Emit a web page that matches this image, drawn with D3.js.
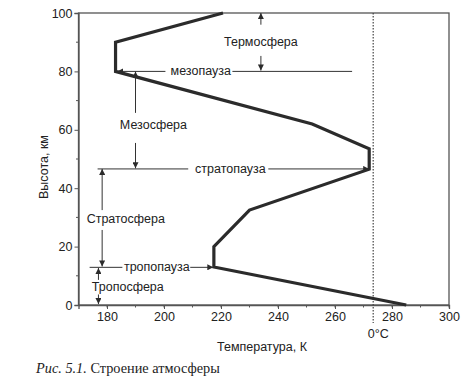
<!DOCTYPE html>
<html><head><meta charset="utf-8">
<script src="https://cdn.jsdelivr.net/npm/d3@7"></script>
<style>
body{margin:0;background:#fff;}
svg text{font-family:"Liberation Sans",Arial,sans-serif;fill:#222;}
</style></head>
<body>
<script>
// ---- data ----
const temperature = [285, 217.5, 217.5, 230, 272, 272, 252, 183, 183, 220.7];
const altitude    = [0, 13, 20, 32.5, 46.5, 53.5, 62, 80, 90, 100];
const xTicks = [180, 200, 220, 240, 260, 280, 300];
const yTicks = [0, 20, 40, 60, 80, 100];
const layerNames = ["Термосфера", "Мезосфера", "Стратосфера", "Тропосфера"];
const pauseNames = ["мезопауза", "стратопауза", "тропопауза"];
const pauseAltitudes = [80, 46.6, 12.9];
const freezingK = 273.4;

const W = 476, H = 380;
const svg = d3.select("body").append("svg").attr("width", W).attr("height", H);
const x = d3.scaleLinear().domain([170, 300]).range([78.5, 449]);
const y = d3.scaleLinear().domain([0, 100]).range([305, 13]);
const ink = "#2b2b2b";

svg.append("defs").append("marker").attr("id","ah")
  .attr("viewBox","0 0 10 10").attr("refX",10).attr("refY",5)
  .attr("markerWidth",7).attr("markerHeight",6).attr("orient","auto-start-reverse")
  .attr("markerUnits","userSpaceOnUse")
  .append("path").attr("d","M0,0L10,5L0,10Z").attr("fill",ink);

// frame
svg.append("rect").attr("x", x(170)).attr("y", y(100))
  .attr("width", x(300)-x(170)).attr("height", y(0)-y(100))
  .attr("fill","none").attr("stroke","#555").attr("stroke-width",1.3);

// axes
const xAxis = d3.axisBottom(x).tickValues(xTicks).tickSize(4).tickPadding(3);
const gx = svg.append("g").attr("transform",`translate(0,${y(0)})`).call(xAxis);
const xMinor = d3.range(180, 301, 10);
svg.append("g").selectAll("line").data(xMinor).join("line")
  .attr("x1",d=>x(d)).attr("x2",d=>x(d)).attr("y1",y(0)).attr("y2",y(0)+2.5)
  .attr("stroke","#555");
const yAxis = d3.axisLeft(y).tickValues(yTicks).tickSize(4).tickPadding(2);
const gy = svg.append("g").attr("transform",`translate(${x(170)},0)`).call(yAxis);
svg.append("g").selectAll("line").data(d3.range(10,100,20)).join("line")
  .attr("x1",x(170)-2.5).attr("x2",x(170)).attr("y1",d=>y(d)).attr("y2",d=>y(d))
  .attr("stroke","#555");
[gx, gy].forEach(g=>{
  g.select(".domain").attr("stroke","#555").attr("stroke-width",1.3);
  g.selectAll(".tick line").attr("stroke","#555");
  g.selectAll(".tick text").attr("font-size",12.5).attr("fill","#222")
   .style("font-family","Liberation Sans, Arial, sans-serif");
});

// 0°C dotted line
svg.append("line").attr("x1",x(freezingK)).attr("x2",x(freezingK))
  .attr("y1",y(100)).attr("y2",y(0)+18)
  .attr("stroke","#444").attr("stroke-width",1.2).attr("stroke-dasharray","1.5,1.5");
svg.append("text").attr("x",x(freezingK)+5).attr("y",338).attr("text-anchor","middle")
  .attr("font-size",12.5).text("0°C");

// axis titles
svg.append("text").attr("x",262).attr("y",351).attr("text-anchor","middle")
  .attr("font-size",12.5).text("Температура, К");
svg.append("text").attr("transform","translate(48,167) rotate(-90)")
  .attr("text-anchor","middle").attr("font-size",12.5).text("Высота, км");

// annotation helper (data units)
function seg(t1,a1,t2,a2,arrowEnd){
  const l = svg.append("line").attr("x1",x(t1)).attr("y1",y(a1)).attr("x2",x(t2)).attr("y2",y(a2))
    .attr("stroke","#333").attr("stroke-width",1);
  if(arrowEnd) l.attr("marker-end","url(#ah)");
  return l;
}
function label(t,a,txt){
  svg.append("text").attr("x",x(t)).attr("y",y(a)).attr("text-anchor","middle")
    .attr("font-size",12.5).text(txt);
}

// mesopause
seg(200.5, pauseAltitudes[0], 183.5, pauseAltitudes[0], true);
label(212.9, pauseAltitudes[0]-1.3, pauseNames[0]);
seg(224, pauseAltitudes[0], 266, pauseAltitudes[0], false);
// stratopause
seg(176.7, pauseAltitudes[1], 208.5, pauseAltitudes[1], false);
label(223.3, pauseAltitudes[1]-1.3, pauseNames[1]);
seg(236.6, pauseAltitudes[1], 272, pauseAltitudes[1], true);
// tropopause
seg(173.9, pauseAltitudes[2], 185.4, pauseAltitudes[2], false);
label(197.5, pauseAltitudes[2]-1.3, pauseNames[2]);
seg(209.2, pauseAltitudes[2], 217.3, pauseAltitudes[2], true);

// Thermosphere
seg(234, 96, 234, 100, true);
label(234, 88.8, layerNames[0]);
seg(234, 85.3, 234, 80.3, true);
// Mesosphere
seg(190, 65.8, 190, 80, true);
label(196.3, 60.2, layerNames[1]);
seg(190, 55.5, 190, 46.8, true);
// Stratosphere
seg(178.3, 32.5, 178.3, 46.6, true);
label(186.6, 28, layerNames[2]);
seg(178.3, 25.7, 178.3, 13.2, true);
// Troposphere
seg(177, 8.6, 177, 12.7, true);
label(187.3, 4.8, layerNames[3]);
seg(177, 3.6, 177, 0.3, true);

// temperature profile
const pts = temperature.map((t,i)=>[t, altitude[i]]);
svg.append("path").datum(pts)
  .attr("d", d3.line().x(d=>x(d[0])).y(d=>y(d[1])))
  .attr("fill","none").attr("stroke",ink).attr("stroke-width",3.2).attr("stroke-linejoin","miter");

// caption
const cap = svg.append("text").attr("x",36).attr("y",373)
  .style("font-family","Liberation Serif, Times New Roman, serif").attr("font-size",14.3);
cap.append("tspan").attr("font-style","italic").text("Рис. 5.1.");
cap.append("tspan").text(" Строение атмосферы");
</script>
</body></html>
